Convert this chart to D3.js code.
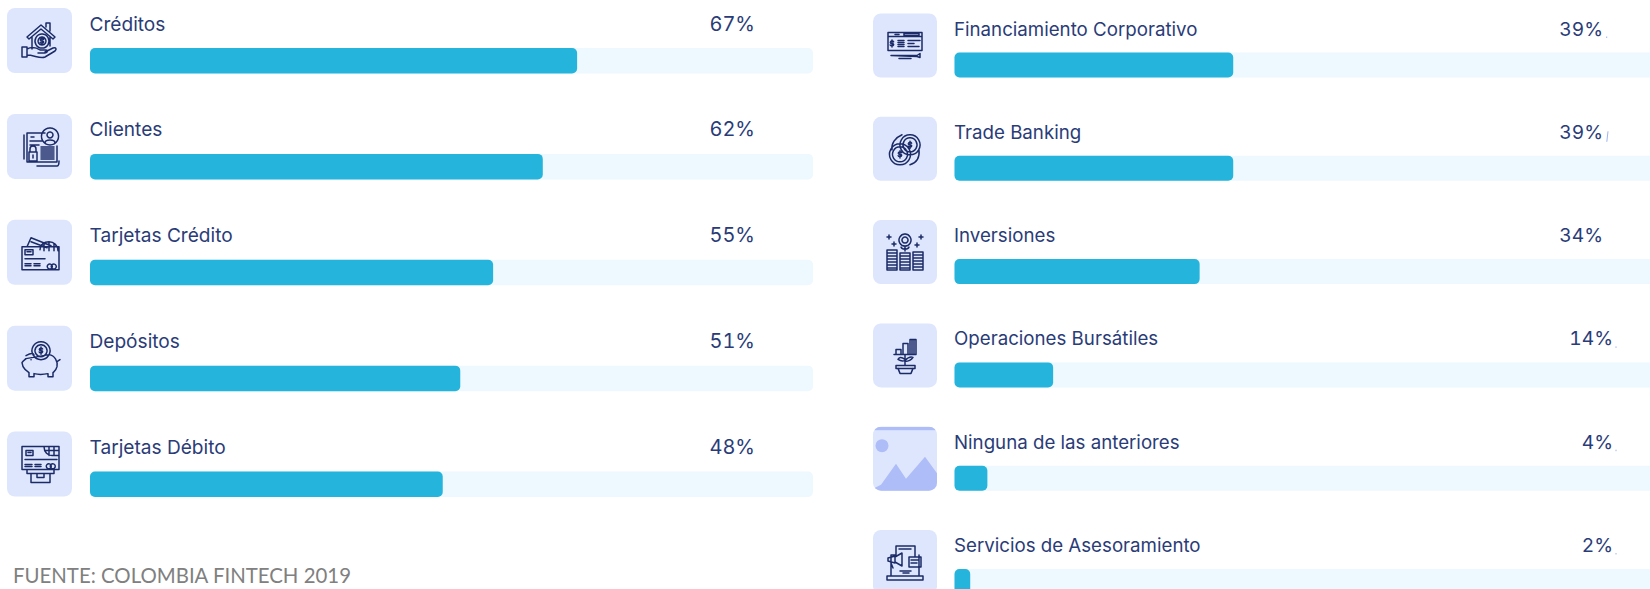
<!DOCTYPE html>
<html>
<head>
<meta charset="utf-8">
<script src="https://cdn.jsdelivr.net/npm/d3@7"></script>
<style>
html,body{margin:0;padding:0;background:#fff;overflow:hidden}
svg{display:block}
</style>
</head>
<body>
<script>
var leftCategories=["Créditos","Clientes","Tarjetas Crédito","Depósitos","Tarjetas Débito"];
var leftValues=[66.7,62,55.2,50.7,48.3]; //bar lengths
var leftLabels=["67%","62%","55%","51%","48%"];
var rightCategories=["Financiamiento Corporativo","Trade Banking","Inversiones","Operaciones Bursátiles","Ninguna de las anteriores","Servicios de Asesoramiento"];
var rightValues=[39,39,34.3,13.8,4.6,2.2];
var rightLabels=["39%","39%","34%","14%","4%","2%"];
var trackMax=99;
var source="FUENTE: COLOMBIA FINTECH 2019";

var width=1650, height=589;
var barColor="#25b4dc", trackColor="#edf8ff", tileColor="#dde6fd", ink="#1c2b68", textColor="#2a3c78";

var svg=d3.select("body").append("svg").attr("width",width).attr("height",height);
svg.append("rect").attr("width",width).attr("height",height).attr("fill","#fff");

function dollar(x,y) {return "M"+(x+1.6)+" "+(y-1.6)+"C"+(x+1)+" "+(y-3)+" "+(x-2)+" "+(y-2.6)+" "+(x-1.6)+" "+(y-.8)+"C"+(x-1.2)+" "+(y+.6)+" "+(x+2)+" "+(y-.4)+" "+(x+1.6)+" "+(y+1.2)+"C"+(x+1.2)+" "+(y+2.8)+" "+(x-1.4)+" "+(y+2.6)+" "+(x-1.8)+" "+(y+1.4)+"M"+x+" "+(y-3.6)+"V"+(y+3.6);}

// line icons, drawn in a 65x65 tile
var icons={
	house:"M20 29L34 17L48 29L46 31L34 21L22 31ZM39 19V15H43V23M25 29V41M43 29V38M35 26a7 7 0 1 0 .01 0M35 29a4 4 0 1 0 .01 0M15 39H20V49H15ZM20 41C26 38 30 40 33 42H39C41 42 41 45 38 45H31M38 44L46 40C49 39 50 41 48 43L38 49C33 51 27 47 20 47"+dollar(35,33),
	clients:"M20 19H38M20 19V48H50V32M17 21V45M24 23H27M23 27H36M23 31H32M43 14a8.5 8.5 0 1 0 .01 0M43 18a3 3 0 1 0 .01 0M38 29C38 25 48 25 48 29M22 38H30V47H22ZM23 38V35C23 31 29 31 29 35V38M26 41V44M34 33H47M34 35H47M34 37H47M34 39H47M34 41H47M34 43H47M34 45H47M30 52H50C52 52 52 50 52 47",
	creditCard:"M15 27H52V50H15ZM20 27L24 18L44 26M24 22L40 28M42 22a9 9 0 0 1 9 9M33 30C33 25 37 22 42 22M42 22V31M37 24V31M47 24V31M35 27H50M18 30H26V35H18ZM20 32H24M18 39H38M18 44H24M27 44H33M18 46H24M27 46H33M41 45a2.5 2.5 0 1 0 .01-.01M45 45a2.5 2.5 0 1 0 .01-.01",
	piggy:"M34 16a9 9 0 1 0 .01 0M34 19a6 6 0 1 0 .01 0M19 30C24 27 27 27 27 30M42 29C48 30 51 36 50 41C49 45 47 46 46 47V51H41V48C36 49 31 49 27 48V51H22V47C19 45 17 43 16 41L15 37C16 35 18 34 19 33ZM50 36L53 34M24 34h.1"+dollar(34,25),
	atm:"M15 15H52V38H15ZM19 19H26V24H19ZM21 21H24M37 15C37 21 41 24 45 24H52M42 15V24M47 15V24M38 19H52M18 28H50M18 33H25M28 33H34M18 35H25M28 35H34M40 33a2.500 2.500 0 1 0 .01-.01M44 33a2.500 2.500 0 1 0 .01-.01M20 38V42H47V38M24 42V51H43V42M30 42V46H37V42",
	cheque:"M15 19H49V37H15ZM15 23H49M22 21H26M31 20H46V22H31ZM25 27H31M25 29H31M25 31H31M25 33H31M35 27H47M35 30H41M35 33H46M18 42H44L47 40V44L44 43L18 42M26 45H38"+dollar(19,30),
	coins:"M37 18a10 10 0 1 0 .01 0M37 21a7 7 0 1 0 .01 0M27 27a10.500 10.500 0 1 0 .01 0M27 30a7.500 7.500 0 1 0 .01 0M19 33C18 27 22 21 29 18M46 33C47 42 43 46 37 48"+dollar(37,28)+dollar(27,37.5),
	stacks:"M14 30H24V50H14ZM14 33H24M14 36H24M14 39H24M14 42H24M14 45H24M14 48H24M27 33H37V50H27ZM27 36H37M27 39H37M27 42H37M27 45H37M27 48H37M40 32H50V50H40ZM40 35H50M40 38H50M40 41H50M40 44H50M40 47H50M32 14a6 6 0 1 0 .01 0M32 17a3 3 0 1 0 .01 0M32 26V31M28 27C29 30 35 30 36 27M16 15V19M14 17H18M48 15V19M46 17H50M21 22V26M19 24H23M44 23V27M42 25H46",
	plant:"M21 31H43M23 31V26H28V31M30 31V20H35V31M37 31V16H43V31M39 16V31M41 16V31M32 32V42M32 36C28 33 26 34 25 36C28 38 30 38 32 37M32 37C36 33 38 33 40 34C38 37 36 38 32 38M23 42H42V45H23ZM25 45L27 50H38L40 45",
	laptop:"M18 45V25H23M46 25V45M14 46H50V50H14ZM23 25V16H42V27M26 19H38M15 28L22 26V33L15 31ZM22 27L29 23V36L22 32M18 33L20 38M36 27H48V37H36ZM38 30H46M38 33H44M27 41H38M30 43H36"
};
var leftIcons=["house","clients","creditCard","piggy","atm"];
var rightIcons=["cheque","coins","stacks","plant","placeholder","laptop"];

var defs=svg.append("defs");

function drawIcon(g,name,size,idx) {
	if (name=="placeholder") {
		defs.append("clipPath").attr("id","tileclip"+idx).append("rect").attr("width",size).attr("height",size).attr("rx",8);
		var c=g.append("g").attr("clip-path","url(#tileclip"+idx+")");
		c.append("rect").attr("width",size).attr("height",3.5).attr("fill","#aebcf8");
		c.append("circle").attr("cx",9).attr("cy",19).attr("r",6.5).attr("fill","#aebcf8");
		c.append("path").attr("d","M0 62L8 58L23 37L33 52L52 30L65 48V65H0Z").attr("fill","#aebcf8");
		return;
	}
	g.append("path").attr("d",icons[name]).attr("fill","none").attr("stroke",ink).attr("stroke-width",1.5).attr("stroke-linejoin","round").attr("stroke-linecap","round");
}

// one column of rows
function drawColumn(o) {
	var y=d3.scalePoint().domain(o.categories).range([o.firstTop,o.lastTop]);

	var rows=svg.selectAll("g.row"+o.id).data(o.categories).enter().append("g").attr("class","row"+o.id)
		.attr("transform",function(d) {return "translate(0,"+y(d)+")"});

	rows.append("rect").attr("x",o.tileLeft).attr("width",o.tileSize).attr("height",o.tileSize).attr("rx",8).attr("fill",tileColor);
	rows.append("g").attr("transform","translate("+o.tileLeft+",0)").each(function(d,i) {
		drawIcon(d3.select(this),o.icons[i],o.tileSize,o.id+i);
	});

	rows.append("rect").attr("x",o.barLeft).attr("y",o.barTop).attr("width",o.trackRight-o.barLeft).attr("height",o.barHeight).attr("rx",5).attr("fill",trackColor);
	rows.append("rect").attr("x",o.barLeft).attr("y",o.barTop).attr("width",function(d,i) {return o.scale(o.values[i])-o.barLeft}).attr("height",o.barHeight).attr("rx",5).attr("fill",barColor);

	rows.append("text").attr("x",o.barLeft-.5).attr("y",o.textY).text(function(d) {return d})
		.attr("font-family","Inter").attr("font-size",o.nameSize).attr("fill",textColor);
	rows.append("text").attr("x",function(d,i) {return o.labelRight(i)}).attr("y",o.textY).text(function(d,i) {return o.labels[i]})
		.attr("font-family","Inter").attr("font-size",o.labelSize).attr("fill",textColor).attr("text-anchor","end")
		.style("font-variant-numeric","tabular-nums");

	// little leftover ticks next to the percentages
	if (o.id=="r") {
		rows.append("path").attr("d",function(d,i) {
			if (i==2) return "";
			if (i==1) return "M1608 14.500L1606.800 25";
			return "M"+(i<3?1606.700:1616)+" 23v1.500";
		}).attr("fill","none").attr("stroke","#9db4f0").attr("stroke-width",1);
	}
}

drawColumn({id:"l",categories:leftCategories,values:leftValues,labels:leftLabels,icons:leftIcons,
	tileLeft:7,tileSize:65,firstTop:8,lastTop:431.5,barLeft:90,trackRight:813,barTop:40,barHeight:25.5,textY:22.5,nameSize:19.1,labelSize:20,
	scale:d3.scaleLinear().domain([0,trackMax]).range([90,813]),
	labelRight:function() {return 755}});

drawColumn({id:"r",categories:rightCategories,values:rightValues,labels:rightLabels,icons:rightIcons,
	tileLeft:873,tileSize:64,firstTop:13.5,lastTop:530,barLeft:954.5,trackRight:1662,barTop:39,barHeight:25,textY:22,nameSize:18.7,labelSize:19.2,
	scale:d3.scaleLinear().domain([0,trackMax]).range([954.5,1662]),
	labelRight:function(i) {return i<3?1603:1613}});

svg.append("text").attr("x",13).attr("y",583).text(source)
	.attr("font-family","Lato").attr("font-size",20.4).attr("fill","#808080");
</script>
</body>
</html>
